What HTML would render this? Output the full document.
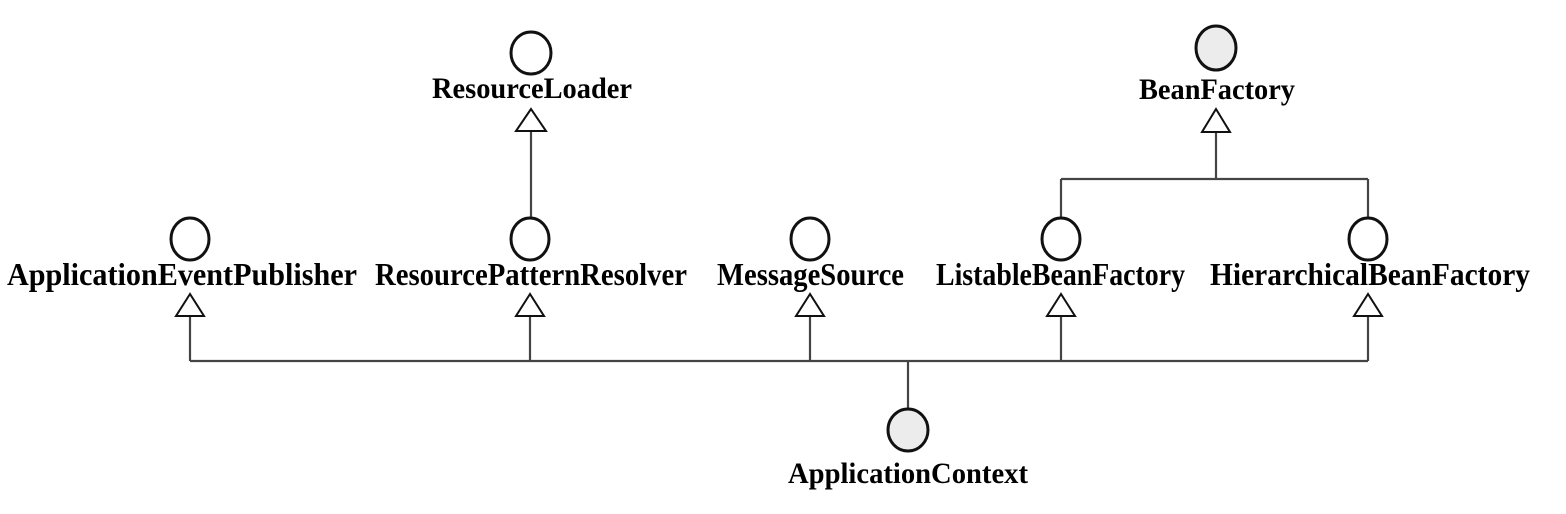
<!DOCTYPE html>
<html><head><meta charset="utf-8"><style>html,body{margin:0;padding:0;background:#fff}svg{display:block}</style></head>
<body>
<svg width="1566" height="514" viewBox="0 0 1566 514" xmlns="http://www.w3.org/2000/svg">
<g fill="none" stroke="#444" stroke-width="2.2">
<line x1="190" y1="361" x2="1368" y2="361"/>
<line x1="908" y1="361" x2="908" y2="409"/>
<line x1="190" y1="316" x2="190" y2="361"/>
<line x1="530" y1="316" x2="530" y2="361"/>
<line x1="810" y1="316" x2="810" y2="361"/>
<line x1="1061" y1="316" x2="1061" y2="361"/>
<line x1="1368" y1="316" x2="1368" y2="361"/>
<line x1="531" y1="131" x2="531" y2="219"/>
<line x1="1216" y1="133" x2="1216" y2="179"/>
<line x1="1061" y1="179" x2="1368" y2="179"/>
<line x1="1061" y1="179" x2="1061" y2="219"/>
<line x1="1368" y1="179" x2="1368" y2="219"/>
</g>
<g fill="#fff" stroke="#111" stroke-width="2">
<polygon points="190,294 176,316 204,316"/>
<polygon points="530,294 516,316 544,316"/>
<polygon points="810,294 796,316 824,316"/>
<polygon points="1061,294 1047,316 1075,316"/>
<polygon points="1368,294 1354,316 1382,316"/>
<polygon points="531,109 516,131 546,131"/>
<polygon points="1216,109 1202,132 1230,132"/>
</g>
<g stroke="#111" stroke-width="3">
<ellipse cx="190" cy="239" rx="19" ry="21" fill="#fff"/>
<ellipse cx="530" cy="239" rx="19" ry="21" fill="#fff"/>
<ellipse cx="810" cy="239" rx="19" ry="21" fill="#fff"/>
<ellipse cx="1061" cy="239" rx="19" ry="21" fill="#fff"/>
<ellipse cx="1368" cy="239" rx="19" ry="21" fill="#fff"/>
<ellipse cx="531" cy="53" rx="20" ry="21" fill="#fff"/>
<ellipse cx="1216" cy="48" rx="20" ry="22" fill="#ececec"/>
<ellipse cx="908" cy="430" rx="20" ry="21" fill="#ececec"/>
</g>
<g font-family="'Liberation Serif', serif" font-weight="bold" font-size="32" fill="#000">
<text x="7" y="285" textLength="350" lengthAdjust="spacingAndGlyphs">ApplicationEventPublisher</text>
<text x="375" y="285" textLength="312" lengthAdjust="spacingAndGlyphs">ResourcePatternResolver</text>
<text x="717" y="285" textLength="187" lengthAdjust="spacingAndGlyphs">MessageSource</text>
<text x="936" y="285" textLength="249" lengthAdjust="spacingAndGlyphs">ListableBeanFactory</text>
<text x="1210" y="285" textLength="320" lengthAdjust="spacingAndGlyphs">HierarchicalBeanFactory</text>
<text x="432" y="98" font-size="30" textLength="200" lengthAdjust="spacingAndGlyphs">ResourceLoader</text>
<text x="1139" y="99" font-size="30" textLength="156" lengthAdjust="spacingAndGlyphs">BeanFactory</text>
<text x="788" y="483" font-size="30" textLength="240" lengthAdjust="spacingAndGlyphs">ApplicationContext</text>
</g>
</svg>
</body></html>
